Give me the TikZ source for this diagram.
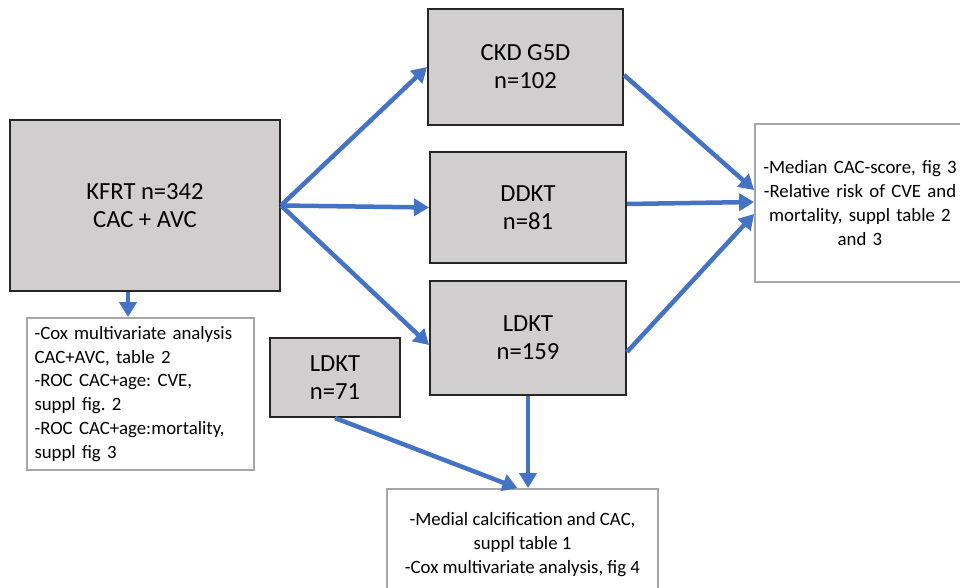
\documentclass[tikz,border=0pt]{standalone}
\usepackage{fontspec}
\setmainfont{Carlito}
\usetikzlibrary{arrows.meta}
\definecolor{boxgray}{HTML}{D0CECE}
\definecolor{linegray}{HTML}{A6A6A6}
\definecolor{arrowblue}{HTML}{4472C4}
\frenchspacing

\begin{document}
\begin{tikzpicture}[
        group/.style={rectangle, draw=black!85, line width=0.04cm, fill=boxgray, 
                      align=center, inner sep=0pt, font=\fontsize{14}{16}\selectfont},
        result/.style={rectangle, draw=linegray, line width=0.035cm, fill=white, 
                      inner sep=0pt, font=\fontsize{10.7}{13.6}\selectfont},
        arrow/.style={draw=arrowblue, line width=0.09cm, -{Triangle[length=0.3cm, width=0.34cm]}}
    ]
        \useasboundingbox (0,0) rectangle (19.2,-11.76);
        
        \node[group, minimum width=5.4cm, minimum height=3.42cm] (kfrt) at (2.9,-4.11) {KFRT n=342\\CAC + AVC};
        \node[group, minimum width=3.9cm, minimum height=2.32cm] (ckd) at (10.51,-1.34) {CKD G5D\\n=102};
        \node[group, minimum width=3.92cm, minimum height=2.22cm] (ddkt) at (10.56,-4.15) {DDKT\\n=81};
        \node[group, minimum width=3.92cm, minimum height=2.28cm] (ldkt) at (10.56,-6.76) {LDKT\\n=159};
        \node[group, minimum width=2.6cm, minimum height=1.58cm] (ldktsmall) at (6.7,-7.55) {LDKT\\n=71};
        
        \node[result, minimum width=4.54cm, minimum height=3.04cm, text width=4.24cm, align=left] (cox) at (2.81,-7.88) 
            {-Cox multivariate analysis\\CAC+AVC, table 2\\-ROC CAC+age: CVE,\\suppl fig. 2\\-ROC CAC+age:mortality,\\suppl fig 3};
        \node[result, minimum width=4.2cm, minimum height=3.16cm, text width=4.1cm, align=center] (outcome) at (17.2,-4.06) 
            {-Median CAC-score, fig 3\\-Relative risk of CVE and\\mortality, suppl table 2\\and 3};
        \node[result, minimum width=5.42cm, minimum height=2.22cm, align=center] (medial) at (10.45,-10.89) 
            {-Medial calcification and CAC,\\suppl table 1\\-Cox multivariate analysis, fig 4};
        
        \draw[arrow] (kfrt.east) -- (ckd.west);
        \draw[arrow] (kfrt.east) -- (ddkt.west);
        \draw[arrow] (kfrt.east) -- ([yshift=-0.14cm]ldkt.west);
        \draw[arrow] ([xshift=-0.25cm]cox.north |- kfrt.south) -- ([xshift=-0.25cm]cox.north);
        
        \draw[arrow] ([yshift=-0.16cm]ckd.east) -- ([yshift=0.26cm]outcome.west);
        \draw[arrow] ([yshift=0.07cm]ddkt.east) -- ([yshift=0.02cm]outcome.west);
        \draw[arrow] ([yshift=-0.28cm]ldkt.east) -- ([yshift=-0.22cm]outcome.west);
        
        \draw[arrow] (ldkt.south) -- (ldkt.south |- medial.north);
        \draw[arrow] (ldktsmall.south) -- ([xshift=-0.1cm]medial.north);
    \end{tikzpicture}
\end{document}
